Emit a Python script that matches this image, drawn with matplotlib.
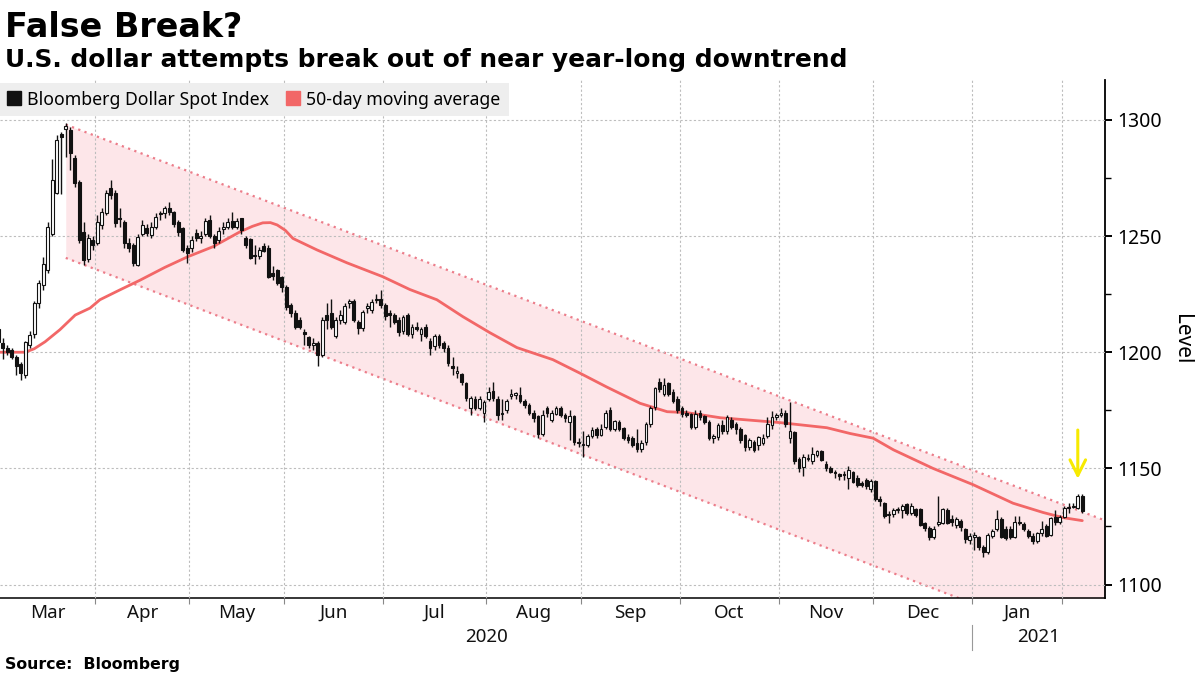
import numpy as np
import pandas as pd
import matplotlib
matplotlib.use("Agg")
import matplotlib.pyplot as plt
from matplotlib.lines import Line2D
from matplotlib.transforms import blended_transform_factory

# ---------------- data ----------------
holidays = ["2020-04-10", "2020-12-25", "2021-01-01"]
dates = pd.bdate_range("2020-03-02", "2021-02-05").drop(pd.to_datetime(holidays))

opens = [
    1210, 1204, 1202, 1201, 1198, 1195, 1190, 1203, 1208, 1221,
    1229, 1235.5, 1251, 1268.6, 1294, 1296, 1295.7, 1283.6, 1273.3, 1251.8,
    1240, 1248.4, 1247, 1254.8, 1260, 1270.8, 1268.6, 1258, 1256, 1247,
    1246, 1237.6, 1251, 1253.5, 1250.5, 1254, 1260, 1259.8, 1262, 1260.4,
    1256, 1253.5, 1245, 1245, 1251.4, 1249, 1251, 1257, 1250, 1248.5,
    1253, 1253.8, 1256.5, 1254, 1257.7, 1249.2, 1248.8, 1242, 1241.5, 1245.8,
    1245, 1234, 1235.5, 1232.5, 1228, 1220.4, 1217, 1214, 1208.5, 1206.7,
    1203, 1204, 1199, 1216, 1217, 1207, 1214, 1213, 1221, 1222,
    1213, 1210.5, 1219, 1218, 1222.5, 1223, 1220.4, 1217, 1216, 1214,
    1209, 1216, 1208, 1211, 1208, 1211, 1205, 1202.5, 1207, 1204,
    1202, 1194, 1191, 1190.5, 1186.7, 1176, 1180, 1176, 1174, 1180,
    1183.5, 1180, 1174, 1175, 1181, 1181.5, 1181.5, 1179, 1177.4, 1174,
    1172.5, 1165, 1176, 1171, 1173.5, 1176, 1173, 1170, 1172.5, 1161.5,
    1160, 1160, 1164, 1167, 1164.5, 1168, 1175, 1167, 1170, 1167.5,
    1163.7, 1163, 1161, 1158.5, 1161.5, 1169, 1176.6, 1187, 1182, 1186.6,
    1183, 1180, 1176, 1174, 1173.6, 1168, 1174, 1172.5, 1170,
    1163, 1163.7, 1168.8, 1166, 1171, 1169, 1167, 1164.5, 1159, 1161.5,
    1160, 1161, 1164, 1168.5, 1172, 1173, 1174, 1163, 1165.5, 1154,
    1150.5, 1154, 1153, 1155.6, 1157.5, 1152, 1150, 1148.5, 1147.5, 1147.5,
    1146, 1148.5, 1146, 1143.5, 1145, 1141, 1144.5, 1137, 1135, 1130,
    1130.5, 1132, 1132, 1134.5, 1131, 1132.5, 1132.5, 1126.5, 1124.5, 1120.6,
    1126, 1126.6, 1132, 1128, 1125.5, 1127.5, 1123.8, 1119, 1120.6, 1120.6,
    1116, 1113.8, 1121, 1124, 1128, 1124, 1124, 1120.5, 1127, 1126,
    1123, 1121, 1118.7, 1122, 1125, 1121.5, 1129, 1127, 1129, 1132.8,
    1133.5, 1133, 1138,
]
highs = [
    1212, 1206, 1203, 1202, 1199, 1196, 1205, 1209, 1222, 1231,
    1241, 1256, 1283, 1293.5, 1295, 1298.5, 1297, 1285, 1274, 1256,
    1251, 1250, 1259, 1262, 1270, 1274, 1270, 1262, 1257, 1249,
    1247, 1251, 1257, 1255, 1256, 1260, 1261, 1263, 1264.7, 1261,
    1257, 1254, 1246, 1250, 1253, 1252, 1258, 1259, 1251, 1254,
    1256, 1258, 1260.4, 1258, 1258, 1250, 1249, 1246, 1245.5, 1247,
    1246, 1237, 1236, 1233, 1229, 1221, 1218, 1215, 1210, 1207,
    1206, 1205, 1215, 1221, 1223, 1215, 1218, 1221, 1223, 1223,
    1214, 1218, 1221, 1223, 1225, 1227, 1221, 1218, 1217, 1215,
    1216, 1217, 1212, 1213, 1211, 1212, 1206, 1208, 1208, 1205,
    1203, 1198, 1194, 1191, 1187, 1181, 1181, 1181, 1179.5, 1185,
    1187, 1181, 1180, 1180, 1184, 1183, 1185, 1180, 1178, 1175,
    1173, 1175, 1177, 1175, 1177, 1177, 1174, 1175, 1173, 1163,
    1166, 1165, 1168, 1168, 1169, 1175, 1176.5, 1171, 1171, 1168,
    1165, 1164, 1167, 1162, 1170, 1177, 1185, 1189, 1189, 1187,
    1184, 1181, 1177, 1175, 1174, 1175, 1175, 1173, 1171,
    1165, 1169.5, 1171, 1173, 1172, 1170, 1168, 1165, 1163, 1162,
    1164, 1165, 1172, 1174.5, 1174, 1176, 1175, 1178.7, 1166, 1155,
    1156, 1156, 1159, 1158, 1158, 1153, 1151, 1149.5, 1148, 1149,
    1151, 1149, 1147, 1144.5, 1146, 1145.5, 1145, 1138, 1135.5, 1131.5,
    1133, 1133.5, 1134.5, 1135, 1135, 1133, 1133, 1127, 1125, 1125,
    1138, 1133, 1133, 1130, 1129, 1128, 1124.5, 1122, 1122.5, 1121,
    1117, 1122, 1124, 1132, 1129, 1125, 1125, 1129.4, 1129.5, 1127,
    1124, 1122, 1122.5, 1127.3, 1126, 1129, 1132, 1130, 1134, 1135,
    1135, 1139, 1139,
]
lows = [
    1203, 1197, 1199, 1197, 1190, 1188, 1189, 1202, 1206, 1219,
    1227, 1234, 1250, 1268, 1268, 1284, 1278.5, 1271, 1247, 1237.6,
    1239, 1244, 1246, 1253, 1259, 1266, 1254, 1254, 1245, 1243,
    1237, 1237, 1250, 1250, 1249, 1253, 1257, 1258, 1259, 1254,
    1250, 1243, 1238.5, 1243, 1248, 1247, 1250, 1249, 1245, 1247,
    1251, 1253, 1253, 1253, 1251, 1245, 1240, 1238, 1240, 1243,
    1232, 1231, 1229, 1226, 1218, 1215, 1210, 1210, 1203, 1202,
    1201, 1194, 1198, 1210, 1210, 1206, 1212, 1212, 1219, 1213,
    1208, 1209, 1217, 1217, 1221, 1219, 1214, 1211, 1212, 1207,
    1208, 1207, 1206, 1209, 1205, 1206, 1199, 1201, 1202, 1200,
    1194, 1190, 1189, 1186, 1179, 1173, 1175, 1175, 1170, 1179,
    1179, 1171, 1171, 1174, 1180, 1180, 1178, 1176, 1173, 1170,
    1163, 1164, 1172, 1170, 1173, 1172, 1170, 1162, 1160, 1159,
    1155, 1159, 1163, 1163, 1164, 1167, 1166, 1166, 1166, 1162,
    1161, 1159, 1157, 1157, 1160, 1168, 1175, 1183, 1181, 1181,
    1178, 1174, 1172, 1172, 1167, 1167, 1171, 1169, 1162,
    1161, 1162, 1165, 1165, 1167, 1165, 1161, 1157.5, 1158, 1157,
    1158, 1160, 1163, 1167, 1171, 1172, 1168, 1161, 1152, 1148.5,
    1146.6, 1153, 1152, 1155, 1153, 1149, 1148, 1146, 1145, 1145,
    1141, 1143.5, 1142, 1142, 1141, 1140, 1136, 1134, 1128.5, 1126.6,
    1129, 1131, 1128.5, 1130, 1130, 1129, 1125, 1123, 1119, 1119.4,
    1125, 1126, 1126, 1125, 1124.5, 1123, 1118, 1117.5, 1115, 1115,
    1112, 1113, 1120, 1123, 1120, 1119, 1119.5, 1120, 1125.5, 1123,
    1120, 1117.5, 1118, 1121, 1120.5, 1121, 1125.5, 1126, 1128.5, 1131,
    1133, 1132.5, 1131,
]
closes = [
    1204.5, 1202, 1200, 1198, 1194, 1191, 1204.5, 1207.5, 1221, 1230,
    1238, 1254, 1274, 1291.4, 1292.5, 1297.5, 1285.8, 1273, 1248.4, 1239.8,
    1249.2, 1246.2, 1256, 1260.4, 1268.6, 1267.7, 1255.7, 1257.5, 1247, 1245,
    1238.5, 1249.6, 1254.8, 1251.4, 1254, 1258.3, 1259.5, 1262, 1260.4, 1255,
    1251.8, 1244, 1242.8, 1248.4, 1249.2, 1250, 1256.6, 1250, 1247, 1252,
    1253.8, 1256, 1253.8, 1256.6, 1252.7, 1246.2, 1240.6, 1241.5, 1244, 1243.7,
    1232.5, 1233, 1230, 1228, 1219.6, 1217, 1211, 1211, 1208, 1203.2,
    1204, 1199, 1214, 1214, 1211, 1214, 1216, 1220, 1222, 1214,
    1210.5, 1217.4, 1220, 1221.7, 1223, 1220.4, 1215.7, 1216, 1213, 1208.8,
    1215, 1208, 1211, 1210, 1210, 1207, 1202, 1207, 1203, 1202,
    1195.5, 1193, 1192, 1187, 1180.4, 1180.4, 1176, 1180, 1178.7, 1183,
    1180.4, 1173, 1173.5, 1179, 1182, 1182.3, 1179, 1177.4, 1174, 1171.6,
    1164.6, 1173, 1174, 1174, 1176, 1173, 1171.6, 1172.5, 1161.2, 1161,
    1160.5, 1164, 1166.5, 1164.5, 1167, 1174, 1167, 1170.5, 1167, 1163,
    1162, 1160, 1158.5, 1161, 1169, 1176, 1184.7, 1184, 1186, 1182,
    1179, 1175, 1173.5, 1173, 1168, 1173.6, 1172, 1170, 1163.2,
    1163.8, 1168.8, 1166, 1172, 1168, 1167, 1162, 1159, 1162, 1158,
    1163.3, 1163, 1169, 1172, 1173, 1174, 1169, 1166, 1153, 1150,
    1155, 1154.5, 1156, 1157.5, 1153.5, 1150, 1148.6, 1148, 1146.5, 1147,
    1149.5, 1144, 1143, 1143, 1142.5, 1144.5, 1136.6, 1136, 1129.4, 1130.5,
    1132, 1132.5, 1134, 1131, 1134, 1130, 1125.8, 1124.5, 1120.6, 1124,
    1127, 1132.3, 1126.6, 1127, 1128, 1124.7, 1119.6, 1121, 1121.5, 1116,
    1113.8, 1121.5, 1123, 1128, 1120.6, 1120, 1120.5, 1127, 1126.5, 1124,
    1121, 1118.7, 1122, 1124, 1121, 1128.8, 1127, 1129, 1133, 1133.3,
    1134, 1138, 1131.6,
]

# 50-day moving average, read at trading-day numbers
ma_day = [0, 6, 8, 10.4, 13.7, 17.1, 20.4, 22.6, 27.1, 31.5, 37, 42, 47.7,
          53.7, 56.5, 58.8, 60.5, 62, 63.8, 65.5, 70.9, 77.5, 85.5, 91.5,
          97.5, 103.3, 109.3, 115.3, 123.3, 129.3, 135.3, 142.7, 148.7,
          153.1, 160.5, 173.8, 184.2, 189.4, 194.5, 199, 207.8, 216.7, 225.6,
          232.3, 236.7, 241]
ma_value = [1200, 1200, 1201.5, 1204.5, 1209.7, 1216, 1219, 1222.6, 1226.9,
            1231, 1236.5, 1241, 1245.4, 1251.8, 1254.2, 1255.7, 1255.8,
            1254.8, 1252.5, 1249, 1244, 1238.5, 1232.5, 1227, 1222.6, 1215.3,
            1208.4, 1202, 1196.8, 1191, 1185, 1178, 1174.4, 1174, 1171.8,
            1169.7, 1167.5, 1165, 1163, 1158, 1150, 1143, 1135, 1131, 1128.8,
            1127.5]

# downtrend channel (trading-day numbers, levels)
channel_day = [15, 246]
channel_upper = [1298.0, 1127.6]
channel_lower = [1240.6, 1070.2]

# arrow annotation (trading day, from level, to level)
arrow_day = 240
arrow_from = 1166.5
arrow_to = 1145.5

month_names = ["Mar", "Apr", "May", "Jun", "Jul", "Aug", "Sep", "Oct",
               "Nov", "Dec", "Jan"]
years = ["2020", "2021"]
yticks = [1100, 1150, 1200, 1250, 1300]

title = "False Break?"
subtitle = "U.S. dollar attempts break out of near year-long downtrend"
legend_labels = ["Bloomberg Dollar Spot Index", "50-day moving average"]

# ---------------- plot ----------------
BLACK = "#111111"
MA_COL = "#f26767"
PINK = "#fde6e9"
CH_LINE = "#ec7d8a"
GRID = "#bdbdbd"

fig = plt.figure(figsize=(12, 6.75), dpi=100)
ax = fig.add_axes([0, 0.1141, 0.9208, 0.7674])

n = len(dates)
x = np.arange(n)
o = np.array(opens); h = np.array(highs); l = np.array(lows); c = np.array(closes)
assert len(o) == len(h) == len(l) == len(c) == n

xl = (0.38, 246.04)
ax.set_xlim(*xl)
ax.set_ylim(1094.2, 1317.2)

# channel
ax.fill_between(channel_day, channel_lower, channel_upper, color=PINK,
                lw=0, zorder=1)
ax.plot(channel_day, channel_upper, color=CH_LINE, lw=1.6,
        ls=(0, (1, 2)), zorder=2)
ax.plot(channel_day, channel_lower, color=CH_LINE, lw=1.6,
        ls=(0, (1, 2)), zorder=2)

# month boundaries
month_starts = [i for i in range(1, n) if dates[i].month != dates[i - 1].month]
bounds = [i - 0.5 for i in month_starts]
edges = [xl[0]] + bounds
centers = [(edges[k] + edges[k + 1]) / 2 for k in range(len(edges) - 1)]

ax.set_xticks(bounds)
ax.set_xticklabels([])
ax.set_xticks(centers, minor=True)
ax.set_xticklabels(month_names[:len(centers)], minor=True,
                   fontsize=13.5, family="Noto Sans", color="#111111")
ax.tick_params(axis="x", which="major", length=4, color="#888888",
               direction="out")
ax.tick_params(axis="x", which="minor", length=0, pad=4)

ax.yaxis.tick_right()
ax.set_yticks(yticks)
ax.set_yticks([1125, 1175, 1225, 1275], minor=True)
ax.tick_params(axis="y", which="major", length=5, width=1.4, color="black",
               labelsize=14, pad=4)
ax.tick_params(axis="y", which="minor", length=4, width=1, color="black")
for t in ax.get_yticklabels():
    t.set_family("Noto Sans")
ax.yaxis.set_label_position("right")
ax.set_ylabel("Level", rotation=270, fontsize=15, family="Noto Sans",
              labelpad=6, va="bottom")

ax.grid(True, which="major", color=GRID, lw=0.8, ls=(0, (2, 2)), zorder=1.5)
ax.set_axisbelow(False)
for gl in ax.get_xgridlines() + ax.get_ygridlines():
    gl.set_zorder(1.5)

for s in ["top", "left"]:
    ax.spines[s].set_visible(False)
ax.spines["right"].set_linewidth(1.3)
ax.spines["bottom"].set_linewidth(1.1)

# moving average
ax.plot(ma_day, ma_value, color=MA_COL, lw=2.0, zorder=3,
        solid_capstyle="round", solid_joinstyle="round")

# candlesticks
ax.vlines(x, l, h, color=BLACK, lw=1.0, zorder=4)
up = c >= o
body_bottom = np.minimum(o, c)
body_h = np.abs(c - o)
ax.bar(x, body_h, bottom=body_bottom, width=0.62,
       color=np.where(up, "white", BLACK), edgecolor=BLACK, linewidth=0.8,
       zorder=5)

# arrow
ax.annotate("", xy=(arrow_day, arrow_to), xytext=(arrow_day, arrow_from),
            arrowprops=dict(arrowstyle="->", color="#f7ea00", lw=2.2,
                            mutation_scale=28, shrinkA=0, shrinkB=0),
            zorder=6)

# year labels + separator
trans = blended_transform_factory(ax.transData, ax.transAxes)
jan_b = bounds[month_names.index("Jan") - 1]
ax.text((xl[0] + jan_b) / 2, -0.058, years[0], transform=trans, ha="center",
        va="top", fontsize=13.5, family="Noto Sans", color="#111111")
ax.text((jan_b + xl[1]) / 2, -0.058, years[1], transform=trans, ha="center",
        va="top", fontsize=13.5, family="Noto Sans", color="#111111")
ax.plot([jan_b, jan_b], [-0.052, -0.100], transform=trans, color="#999999",
        lw=0.8, clip_on=False)

# legend
handles = [Line2D([], [], ls="", marker="s", color=BLACK, markersize=10),
           Line2D([], [], ls="", marker="s", color=MA_COL, markersize=10)]
leg = ax.legend(handles, legend_labels, ncol=2, loc="upper left",
                bbox_to_anchor=(0.0, 0.995), frameon=True, fancybox=False,
                facecolor="#eeeeee", edgecolor="none", framealpha=1,
                prop={"family": "Noto Sans", "size": 12.7},
                handlelength=0.7, handletextpad=0.4, columnspacing=1.0,
                borderpad=0.45, borderaxespad=0)
leg.set_zorder(10)

# titles
fig.text(0.004, 0.9452, title, fontsize=24, fontweight="bold",
         family="DejaVu Sans", va="baseline", ha="left")
fig.text(0.004, 0.9007, subtitle, fontsize=17.9, fontweight="bold",
         family="DejaVu Sans", va="baseline", ha="left")
fig.text(0.004, 0.0089, "Source:  Bloomberg", fontsize=11.3,
         fontweight="bold", family="DejaVu Sans", va="baseline", ha="left")

fig.savefig("out.png", dpi=100)
